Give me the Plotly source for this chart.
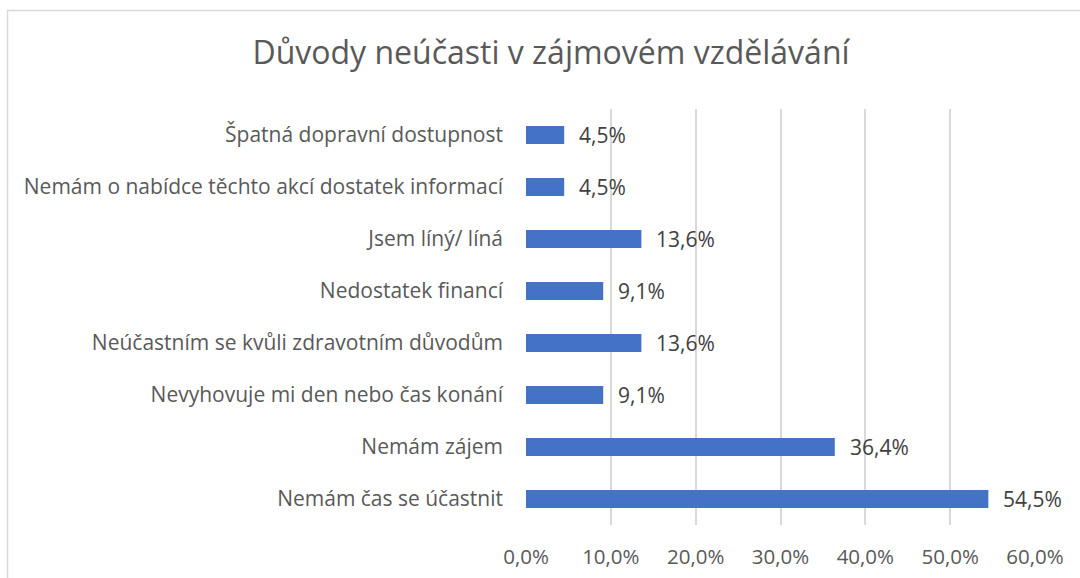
import plotly.graph_objects as go

categories = [
    "Špatná dopravní dostupnost",
    "Nemám o nabídce těchto akcí dostatek informací",
    "Jsem líný/ líná",
    "Nedostatek financí",
    "Neúčastním se kvůli zdravotním důvodům",
    "Nevyhovuje mi den nebo čas konání",
    "Nemám zájem",
    "Nemám čas se účastnit",
]
values = [0.045, 0.045, 0.136, 0.091, 0.136, 0.091, 0.364, 0.545]
x_ticks = [0.0, 0.1, 0.2, 0.3, 0.4, 0.5, 0.6]
title = "Důvody neúčasti v zájmovém vzdělávání"

FONT = "Open Sans"
TXT = "#595959"

fig = go.Figure()
fig.add_trace(go.Bar(
    x=values, y=categories, orientation="h",
    marker=dict(color="#4472C4", line=dict(width=0)),
    hoverinfo="skip",
))

for c, v in zip(categories, values):
    fig.add_annotation(
        x=v, y=c, xref="x", yref="y",
        text=f"{v*100:.1f}%".replace(".", ","),
        showarrow=False, xanchor="left", yanchor="middle",
        xshift=13, font=dict(family=FONT, size=21, color="#404040"),
    )

L, R, T, B = 526, 45, 109, 53
W, H = 1080, 578
pw = W - L - R
ph = H - T - B

fig.add_shape(
    type="rect", xref="paper", yref="paper",
    x0=(7.5 - L) / pw, x1=(W + 20 - L) / pw,
    y0=-(B + 20) / ph, y1=1 + (T - 10.5) / ph,
    line=dict(color="#d9d9d9", width=1.5), fillcolor="rgba(0,0,0,0)",
    layer="below",
)

fig.update_layout(
    width=W, height=H,
    margin=dict(l=L, r=R, t=T, b=B, autoexpand=False),
    paper_bgcolor="white", plot_bgcolor="white",
    separators=", ",
    bargap=0.654,
    showlegend=False,
    title=dict(
        text=title, x=551 / W, xanchor="center", xref="container",
        y=1 - 53 / H, yanchor="middle", yref="container",
        font=dict(family=FONT, size=32, color=TXT),
    ),
    font=dict(family=FONT, size=21, color=TXT),
)
fig.update_xaxes(
    range=[0, 0.6], tickvals=x_ticks, tickformat=".1%",
    showgrid=True, gridcolor="#d9d9d9", gridwidth=1.5,
    zeroline=False, showline=False, ticks="",
    ticklabelstandoff=17, automargin=False,
    tickfont=dict(family=FONT, size=20.5, color=TXT),
    fixedrange=True,
)
fig.update_yaxes(
    categoryorder="array", categoryarray=categories[::-1],
    showgrid=False, zeroline=False, showline=False, ticks="",
    ticklabelstandoff=22, automargin=False,
    tickfont=dict(family=FONT, size=21, color=TXT),
    fixedrange=True,
)

fig.write_html(
    "out.html",
    config={"displayModeBar": False},
    post_script="document.body.style.margin='0';document.body.style.overflow='hidden';",
)
